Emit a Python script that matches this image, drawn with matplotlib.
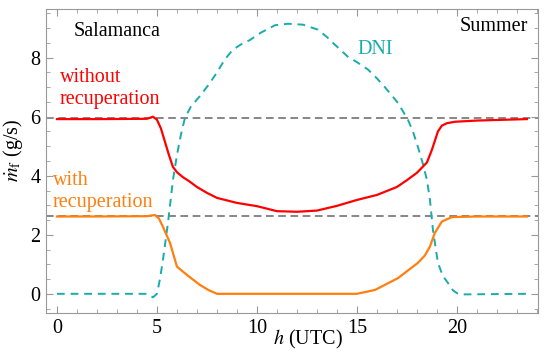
import matplotlib
matplotlib.use('Agg')

import matplotlib.pyplot as plt
from matplotlib.ticker import MultipleLocator

plt.rcParams['font.family'] = ['Liberation Serif', 'DejaVu Serif']
plt.rcParams['mathtext.fontset'] = 'stix'

# hours (UTC) and fuel mass flow (g/s)
h_red = [0, 2, 4.5, 4.8, 5.0, 5.2, 5.4, 5.6, 5.8, 6.0, 6.3, 6.6, 7, 7.5, 8, 9,
         10, 11, 12, 13, 14, 15, 16, 17, 17.5, 18, 18.5, 18.75, 19.05, 19.25,
         19.5, 19.9, 21, 23.5]
m_without = [5.92, 5.92, 5.93, 6.0, 5.9, 5.6, 5.15, 4.7, 4.3, 4.12, 3.95, 3.82,
             3.62, 3.42, 3.25, 3.08, 2.97, 2.8, 2.78, 2.82, 2.98, 3.18, 3.35,
             3.62, 3.85, 4.1, 4.45, 4.88, 5.5, 5.7, 5.78, 5.83, 5.87, 5.92]

h_orange = [0, 2, 4.5, 4.9, 5.1, 5.3, 5.65, 6.0, 6.5, 7.15, 7.6, 8.0, 10, 15,
            15.9, 17.05, 18.05, 18.4, 18.65, 18.9, 19.25, 19.75, 21, 23.5]
m_with = [2.62, 2.62, 2.63, 2.67, 2.55, 2.27, 1.73, 0.92, 0.64, 0.3, 0.12, 0.0,
          0.0, 0.0, 0.13, 0.53, 1.05, 1.3, 1.6, 2.07, 2.45, 2.6, 2.62, 2.62]

h_dni = [0, 4.5, 4.8, 5.0, 5.15, 5.3, 5.55, 5.8, 6.0, 6.2, 6.4, 6.7, 7.15, 7.6,
         8.0, 8.4, 8.8, 9.2, 9.65, 10.2, 10.9, 11.55, 12.3, 13.05, 13.5, 13.9,
         14.55, 15.0, 15.55, 16.0, 16.4, 17.05, 17.55, 17.8, 18.05, 18.3, 18.5,
         18.65, 18.8, 19.05, 19.3, 19.55, 19.8, 20.05, 20.3, 23.5]
dni = [0, 0, -0.12, 0.0, 0.5, 1.15, 2.4, 3.86, 4.7, 5.4, 5.96, 6.35, 6.7, 7.1,
       7.5, 7.95, 8.27, 8.45, 8.6, 8.85, 9.1, 9.15, 9.12, 8.95, 8.7, 8.44,
       8.03, 7.85, 7.6, 7.3, 7.0, 6.47, 5.9, 5.5, 4.98, 4.4, 3.86, 3.19, 2.17,
       1.05, 0.6, 0.37, 0.12, 0.0, -0.02, 0.0]

ref_without = 5.95
ref_with = 2.62

fig = plt.figure(figsize=(5.5, 3.56), dpi=100)
ax = fig.add_axes([0.0836, 0.1208, 0.8944, 0.8539])

ax.axhline(ref_without, color='#666666', lw=1.1, ls=(0, (5, 3)), zorder=1)
ax.axhline(ref_with, color='#666666', lw=1.1, ls=(0, (5, 3)), zorder=1)

ax.plot(h_dni, dni, color='#1aabab', lw=1.4, ls=(0, (4, 3)), zorder=2)
ax.plot(h_red, m_without, color='#ff0000', lw=1.6, zorder=3)
ax.plot(h_orange, m_with, color='#ff7f0e', lw=1.6, zorder=3)

ax.set_xlim(-0.55, 24.05)
ax.set_ylim(-0.65, 9.65)
ax.xaxis.set_major_locator(MultipleLocator(5))
ax.xaxis.set_minor_locator(MultipleLocator(1))
ax.yaxis.set_major_locator(MultipleLocator(2))
ax.yaxis.set_minor_locator(MultipleLocator(0.5))
ax.tick_params(which='both', direction='in', top=True, right=True,
               color='#999999', labelsize=14.5, pad=4)
ax.tick_params(which='major', length=5)
ax.tick_params(which='minor', length=3)
for s in ax.spines.values():
    s.set_color('#999999')

ax.set_xlabel(r'$h$ (UTC)', fontsize=14.5)
ax.xaxis.set_label_coords(0.533, -0.05)
ax.set_ylabel(r'$\dot{m}_\mathrm{f}$ (g/s)', fontsize=14.5)
ax.yaxis.set_label_coords(-0.042, 0.536)

ax.text(3.0, 8.88, 'Salamanca', fontsize=14.5, ha='center', va='center')
ax.text(21.85, 9.05, 'Summer', fontsize=14.5, ha='center', va='center')
ax.text(15.9, 8.27, 'DNI', fontsize=14.5, color='#1aabab', ha='center', va='center')
ax.text(0.15, 6.95, 'without\nrecuperation', fontsize=14.5, color='#ff0000',
        ha='left', va='center', linespacing=1.2)
ax.text(-0.2, 3.46, 'with\nrecuperation', fontsize=14.5, color='#ff7f0e',
        ha='left', va='center', linespacing=1.2)

fig.savefig('out.png', dpi=100)
